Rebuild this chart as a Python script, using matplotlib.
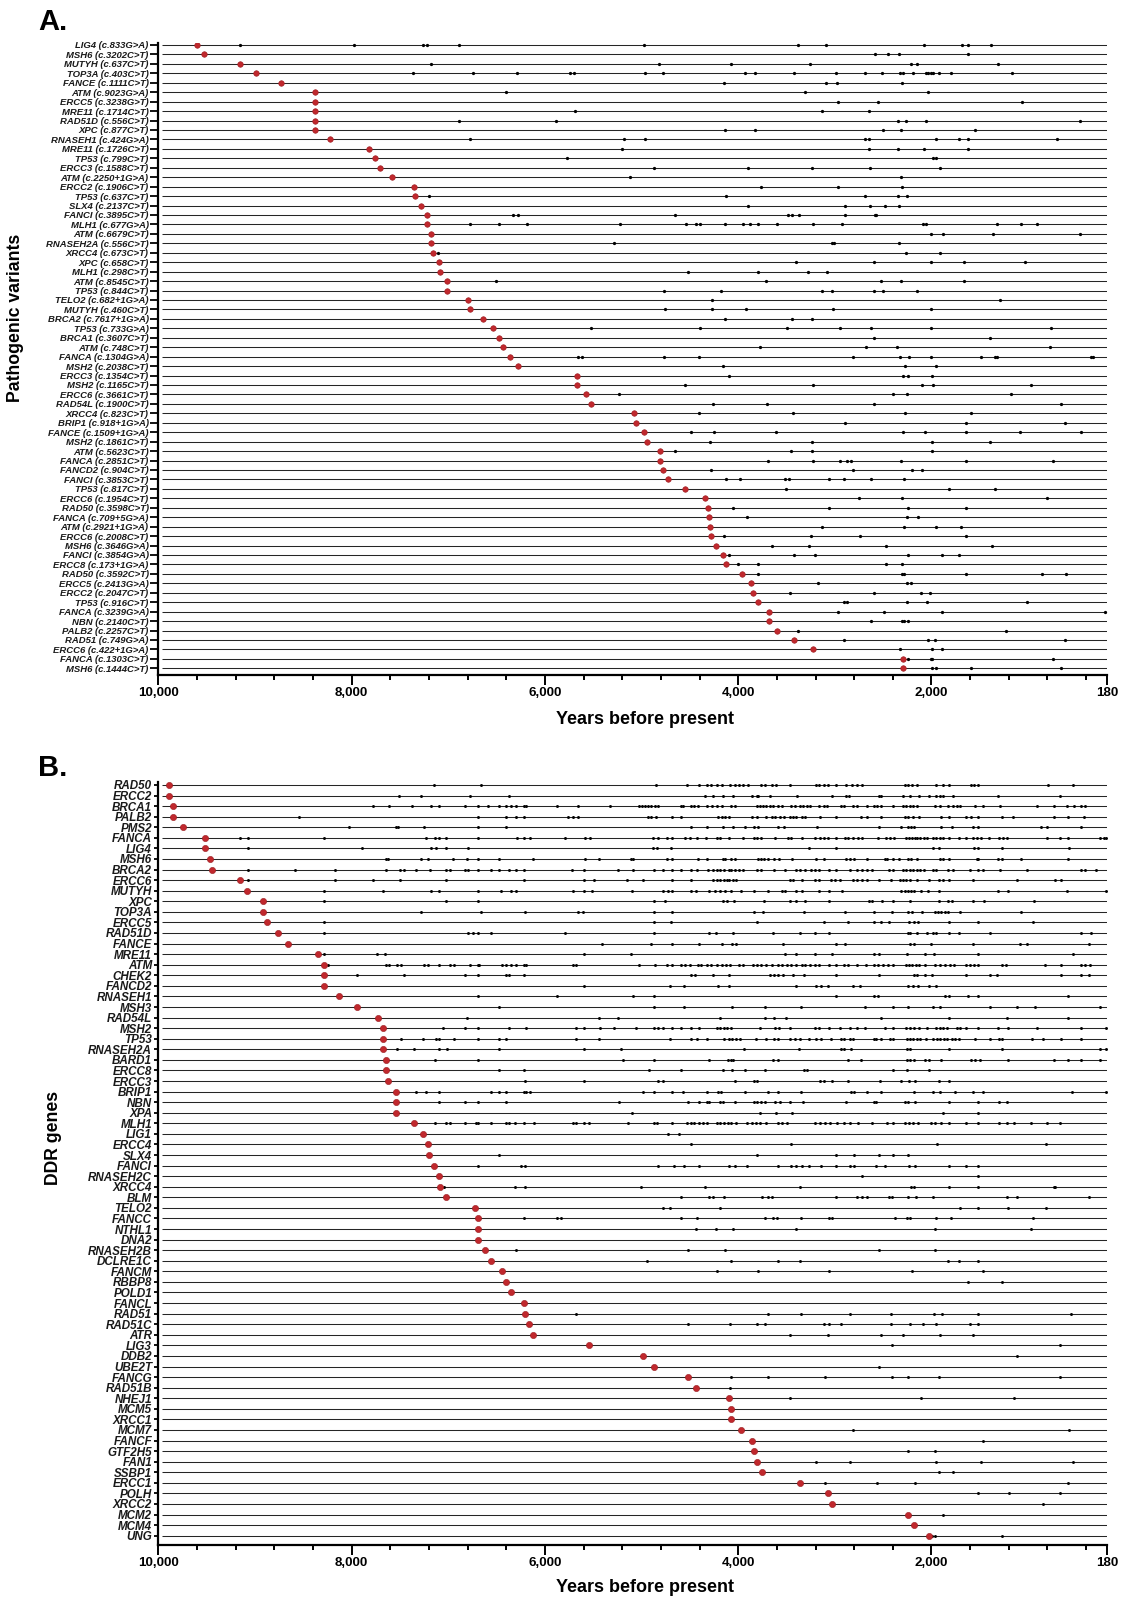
import matplotlib
matplotlib.use("Agg")
import matplotlib.pyplot as plt
from matplotlib.ticker import FixedLocator
import numpy as np

plt.rcParams['font.family'] = ['Liberation Sans', 'DejaVu Sans']

RED = '#c0282d'
W, H = 1127, 1598

# ---------------- panel A: pathogenic variants ----------------
variant_labels = [
    "LIG4 (c.833G>A)", "MSH6 (c.3202C>T)", "MUTYH (c.637C>T)", "TOP3A (c.403C>T)",
    "FANCE (c.1111C>T)", "ATM (c.9023G>A)", "ERCC5 (c.3238G>T)", "MRE11 (c.1714C>T)",
    "RAD51D (c.556C>T)", "XPC (c.877C>T)", "RNASEH1 (c.424G>A)", "MRE11 (c.1726C>T)",
    "TP53 (c.799C>T)", "ERCC3 (c.1588C>T)", "ATM (c.2250+1G>A)", "ERCC2 (c.1906C>T)",
    "TP53 (c.637C>T)", "SLX4 (c.2137C>T)", "FANCI (c.3895C>T)", "MLH1 (c.677G>A)",
    "ATM (c.6679C>T)", "RNASEH2A (c.556C>T)", "XRCC4 (c.673C>T)", "XPC (c.658C>T)",
    "MLH1 (c.298C>T)", "ATM (c.8545C>T)", "TP53 (c.844C>T)", "TELO2 (c.682+1G>A)",
    "MUTYH (c.460C>T)", "BRCA2 (c.7617+1G>A)", "TP53 (c.733G>A)", "BRCA1 (c.3607C>T)",
    "ATM (c.748C>T)", "FANCA (c.1304G>A)", "MSH2 (c.2038C>T)", "ERCC3 (c.1354C>T)",
    "MSH2 (c.1165C>T)", "ERCC6 (c.3661C>T)", "RAD54L (c.1900C>T)", "XRCC4 (c.823C>T)",
    "BRIP1 (c.918+1G>A)", "FANCE (c.1509+1G>A)", "MSH2 (c.1861C>T)", "ATM (c.5623C>T)",
    "FANCA (c.2851C>T)", "FANCD2 (c.904C>T)", "FANCI (c.3853C>T)", "TP53 (c.817C>T)",
    "ERCC6 (c.1954C>T)", "RAD50 (c.3598C>T)", "FANCA (c.709+5G>A)", "ATM (c.2921+1G>A)",
    "ERCC6 (c.2008C>T)", "MSH6 (c.3646G>A)", "FANCI (c.3854G>A)", "ERCC8 (c.173+1G>A)",
    "RAD50 (c.3592C>T)", "ERCC5 (c.2413G>A)", "ERCC2 (c.2047C>T)", "TP53 (c.916C>T)",
    "FANCA (c.3239G>A)", "NBN (c.2140C>T)", "PALB2 (c.2257C>T)", "RAD51 (c.749G>A)",
    "ERCC6 (c.422+1G>A)", "FANCA (c.1303C>T)", "MSH6 (c.1444C>T)",
]

# oldest sample carrying the variant (years before present)
variant_first = [
    9600, 9530, 9150, 8990, 8730, 8380, 8380, 8380, 8380, 8380,
    8220, 7820, 7760, 7710, 7580, 7350, 7340, 7280, 7220, 7220,
    7180, 7180, 7160, 7100, 7090, 7010, 7010, 6800, 6770, 6640,
    6540, 6480, 6430, 6360, 6280, 5670, 5670, 5570, 5520, 5080,
    5060, 4970, 4940, 4810, 4810, 4780, 4730, 4550, 4340, 4310,
    4300, 4290, 4280, 4230, 4160, 4130, 3960, 3870, 3850, 3790,
    3680, 3680, 3600, 3420, 3230, 2290, 2290,
]

# other carriers
variant_other = [
    [9150, 7970, 7260, 7220, 6890, 4970, 3380, 3090, 2080, 1680, 1620, 1380],
    [2580, 2450, 2340, 1620],
    [7180, 4820, 4070, 3260, 2210, 2150, 1310],
    [7360, 6740, 6290, 5740, 5700, 4960, 4780, 3930, 3830, 3420, 2990, 2690,
     2510, 2330, 2290, 2190, 2060, 2040, 2010, 1980, 1920, 1800, 1170],
    [4150, 3090, 2980, 2310],
    [6400, 3310, 2040],
    [2970, 2550, 1060],
    [5690, 3130, 2650],
    [6890, 5880, 2350, 2260, 2060, 460],
    [4140, 3830, 2500, 2320, 1550],
    [6780, 5180, 4960, 2690, 2650, 1950, 1720, 1620, 700],
    [5200, 2650, 2350, 2080, 1620],
    [5770, 1980, 1950],
    [4870, 3900, 3240, 2640, 1910],
    [5120, 2320],
    [3760, 2970, 2310],
    [7200, 4130, 2690, 2350, 2250],
    [3900, 2900, 2640, 2480, 2340],
    [6330, 6280, 4650, 3480, 3440, 3370, 2890, 2580, 2570],
    [6780, 6470, 6190, 5220, 4540, 4440, 4400, 4140, 3950, 3880, 3790, 3600,
     3230, 2930, 2090, 2060, 1320, 1070, 910],
    [2010, 1880, 1360, 460],
    [5290, 3030, 3010, 2340],
    [7110, 2260, 1910],
    [3400, 2600, 2010, 1660, 1030],
    [4520, 3800, 3280, 3080],
    [6510, 3710, 2520, 2320, 1660],
    [4770, 4180, 3130, 3030, 2590, 2500, 2150],
    [4270, 1290],
    [4760, 4270, 3920, 3020, 2010],
    [4140, 3440, 3240],
    [5520, 4400, 3490, 2950, 2630, 2010, 760],
    [2600, 1390],
    [3770, 2680, 2360, 770],
    [5660, 5620, 4770, 4410, 2810, 2330, 2230, 2010, 1490, 1340, 1320, 350, 330],
    [4160, 2270, 1950],
    [4100, 2290, 2240, 1990],
    [4550, 3230, 2100, 1980, 970],
    [5230, 2400, 2250, 1180],
    [4260, 3700, 2590, 660],
    [4410, 3430, 2270, 1590],
    [2890, 1640, 620],
    [4490, 4250, 3610, 2290, 2070, 1640, 1080, 450],
    [4290, 3240, 1990, 1390],
    [4650, 3450, 3240, 1990],
    [3690, 3230, 2950, 2870, 2830, 2320, 1640, 740],
    [4280, 2810, 2200, 2100],
    [4130, 3980, 3520, 3470, 3060, 2910, 2630, 2280],
    [3510, 1820, 1340],
    [2750, 2310, 800],
    [4050, 3060, 2240, 1640],
    [3910, 2250, 2140],
    [3130, 2280, 1950, 1690],
    [4150, 3250, 2740, 1640],
    [3650, 3270, 2470, 1370],
    [4100, 3420, 3210, 2240, 1890, 1720],
    [4000, 3790, 2470, 2310],
    [3800, 2310, 2280, 1640, 860, 610],
    [3170, 2250, 2210],
    [3460, 2590, 2110, 2020],
    [2910, 2870, 2250, 2050, 1010],
    [2970, 2490, 1890, 200],
    [2630, 2310, 2280, 2240],
    [3380, 1230],
    [2910, 2040, 1960, 620],
    [2330, 1990, 1890],
    [2240, 2010, 1990, 740],
    [1990, 1950, 1590, 660],
]

# ---------------- panel B: DDR genes ----------------
gene_labels = [
    "RAD50", "ERCC2", "BRCA1", "PALB2", "PMS2", "FANCA", "LIG4", "MSH6", "BRCA2",
    "ERCC6", "MUTYH", "XPC", "TOP3A", "ERCC5", "RAD51D", "FANCE", "MRE11", "ATM",
    "CHEK2", "FANCD2", "RNASEH1", "MSH3", "RAD54L", "MSH2", "TP53", "RNASEH2A",
    "BARD1", "ERCC8", "ERCC3", "BRIP1", "NBN", "XPA", "MLH1", "LIG1", "ERCC4",
    "SLX4", "FANCI", "RNASEH2C", "XRCC4", "BLM", "TELO2", "FANCC", "NTHL1", "DNA2",
    "RNASEH2B", "DCLRE1C", "FANCM", "RBBP8", "POLD1", "FANCL", "RAD51", "RAD51C",
    "ATR", "LIG3", "DDB2", "UBE2T", "FANCG", "RAD51B", "NHEJ1", "MCM5", "XRCC1",
    "MCM7", "FANCF", "GTF2H5", "FAN1", "SSBP1", "ERCC1", "POLH", "XRCC2", "MCM2",
    "MCM4", "UNG",
]

gene_first = [
    9890, 9890, 9850, 9850, 9740, 9520, 9520, 9460, 9440, 9150,
    9080, 8920, 8920, 8880, 8760, 8660, 8350, 8290, 8290, 8290,
    8130, 7940, 7730, 7680, 7680, 7680, 7640, 7640, 7620, 7540,
    7540, 7540, 7350, 7260, 7210, 7200, 7150, 7100, 7090, 7020,
    6720, 6690, 6690, 6690, 6620, 6560, 6440, 6400, 6350, 6220,
    6210, 6160, 6120, 5540, 4990, 4870, 4520, 4440, 4090, 4070,
    4070, 3970, 3860, 3840, 3810, 3750, 3360, 3070, 3030, 2240,
    2180, 2030,
]

gene_other = [
    [7150, 6660, 4850, 4530, 4410, 4320, 4280, 4220, 4170, 4080, 4030, 3990, 3950,
     3900, 3760, 3720, 3650, 3610, 3460, 3200, 3160, 3110, 3070, 2990, 2880, 2820,
     2770, 2720, 2270, 2240, 2200, 2150, 1950, 1880, 1820, 1590, 1560, 1520, 790, 540],
    [7510, 7280, 6780, 6370, 4340, 4260, 4160, 4050, 3860, 3810, 3790, 3670, 3390,
     3030, 2880, 2850, 2540, 2520, 2290, 2220, 2130, 2030, 1950, 1910, 1880, 1780,
     1310, 670],
    [7780, 7610, 7370, 7180, 7100, 6830, 6690, 6590, 6470, 6400, 6350, 6300, 6220,
     6200, 5870, 5660, 5330, 5030, 5000, 4960, 4930, 4900, 4860, 4830, 4590, 4570,
     4490, 4460, 4420, 4320, 4270, 4220, 4170, 4070, 4030, 3810, 3770, 3740, 3710,
     3670, 3640, 3590, 3550, 3450, 3410, 3360, 3330, 3290, 3260, 3160, 3110, 3080,
     2940, 2910, 2810, 2770, 2670, 2600, 2560, 2520, 2400, 2290, 2260, 2220, 2190,
     2150, 1960, 1910, 1830, 1780, 1740, 1700, 1550, 1470, 1290, 910, 730, 600, 530,
     450, 410],
    [8540, 6690, 6400, 6300, 6220, 5760, 5710, 5660, 4930, 4900, 4850, 4690, 4590,
     4210, 4170, 4140, 4090, 3860, 3810, 3710, 3650, 3620, 3570, 3530, 3460, 3430,
     3400, 3340, 3310, 3150, 2990, 2730, 2670, 2520, 2270, 2240, 2190, 2130, 1900,
     1820, 1640, 1590, 1520, 1270, 1160, 730, 590, 420],
    [8030, 7540, 7520, 7250, 6690, 6400, 4490, 4320, 4160, 4050, 3930, 3840, 3800,
     3590, 3530, 3180, 2540, 2320, 2240, 2210, 2180, 1900, 1790, 1570, 1520, 870,
     800, 450],
    [9150, 9070, 8290, 7230, 7140, 7100, 7020, 6690, 6290, 6220, 6150, 5790, 5590,
     5530, 4880, 4830, 4740, 4690, 4550, 4500, 4430, 4330, 4220, 4190, 4090, 3950,
     3840, 3810, 3760, 3620, 3480, 3450, 3340, 3210, 3150, 3110, 3070, 2990, 2900,
     2860, 2810, 2760, 2720, 2550, 2470, 2430, 2390, 2260, 2230, 2200, 2170, 2150,
     2120, 2080, 2050, 1980, 1950, 1910, 1880, 1820, 1720, 1640, 1570, 1530, 1490,
     1400, 1300, 1260, 1220, 810, 670, 590, 260, 220, 190],
    [9070, 7890, 7180, 7130, 7020, 6800, 4880, 4840, 4700, 3270, 2990, 1980, 1920,
     1560, 1520, 1270, 580],
    [7640, 7620, 7280, 7210, 6950, 6810, 6690, 6470, 6120, 5590, 5440, 5110, 5090,
     4740, 4690, 4420, 4320, 4160, 4140, 4070, 4030, 3790, 3760, 3730, 3690, 3630,
     3580, 3440, 3200, 3110, 2880, 2840, 2800, 2670, 2480, 2460, 2400, 2340, 2240,
     2210, 2150, 1910, 1880, 1820, 1530, 1520, 1310, 1270, 1070, 590],
    [9070, 8590, 8170, 7640, 7500, 7460, 7330, 7190, 7020, 6980, 6830, 6800, 6690,
     6560, 6470, 6370, 6300, 6220, 5720, 5600, 5240, 5090, 4870, 4780, 4690, 4590,
     4490, 4430, 4310, 4260, 4220, 4190, 4150, 4100, 4070, 4030, 3990, 3950, 3810,
     3760, 3630, 3520, 3400, 3360, 3310, 3250, 3210, 3160, 3060, 2990, 2840, 2770,
     2720, 2670, 2620, 2440, 2400, 2290, 2260, 2220, 2190, 2150, 2120, 2080, 1980,
     1950, 1830, 1780, 1600, 1520, 1470, 1290, 1010, 450, 410, 300],
    [9070, 8170, 7780, 7500, 7020, 6220, 5600, 5490, 5150, 4990, 4690, 4490, 4260,
     4220, 4190, 4150, 4120, 4090, 4050, 4020, 3460, 3430, 3340, 3210, 3160, 3040,
     3000, 2950, 2810, 2770, 2720, 2670, 2540, 2420, 2330, 2290, 2260, 2220, 2150,
     2030, 1920, 1880, 1820, 1570, 1120, 720, 660],
    [8290, 7680, 7180, 7100, 6690, 6450, 6350, 6300, 5710, 5600, 5510, 5100, 4780,
     4730, 4690, 4490, 4440, 4300, 4240, 4190, 4140, 4070, 3970, 3840, 3690, 3550,
     3520, 3400, 3340, 3160, 3060, 2930, 2320, 2270, 2240, 2210, 2180, 2110, 2040,
     1920, 1310, 1210, 600, 190],
    [8290, 7020, 6690, 4870, 4760, 4160, 4120, 4040, 3730, 3460, 3400, 3310, 3060,
     2650, 2620, 2510, 2400, 2220, 1920, 1830, 1790, 1570, 1460, 940],
    [7280, 6660, 6210, 5660, 5610, 4870, 4690, 3840, 3740, 3320, 2900, 2590, 2410,
     2240, 2200, 2100, 1960, 1930, 1900, 1860, 1830, 1710, 1070],
    [8290, 4870, 4700, 3810, 3110, 2860, 2600, 2520, 2440, 2230, 2180, 2140, 1820,
     1520, 950],
    [8290, 6800, 6740, 6690, 6560, 5790, 4870, 4300, 4230, 4050, 3640, 3360, 3210,
     3060, 2240, 2220, 2150, 2050, 1980, 1950, 1820, 1720, 1390, 450, 350],
    [5410, 4900, 4690, 4410, 4170, 4060, 4020, 3540, 2990, 2890, 2220, 2180, 2000,
     1570, 1080, 1010, 370],
    [8290, 7740, 7650, 5600, 5110, 3520, 3400, 3210, 3030, 2600, 2540, 2250, 2070,
     1970, 1520, 540],
    [8240, 7640, 7610, 7530, 7490, 7250, 7210, 7100, 6980, 6940, 6780, 6690, 6680,
     6440, 6400, 6350, 6300, 6220, 6200, 5710, 5680, 5030, 4860, 4740, 4690, 4590,
     4550, 4500, 4420, 4390, 4320, 4280, 4220, 4170, 4130, 4080, 3990, 3950, 3850,
     3810, 3760, 3710, 3650, 3590, 3550, 3500, 3450, 3400, 3340, 3310, 3260, 3210,
     3160, 3060, 2990, 2910, 2860, 2770, 2680, 2600, 2550, 2500, 2450, 2400, 2260,
     2230, 2200, 2160, 2130, 2070, 1960, 1910, 1860, 1810, 1770, 1640, 1600, 1560,
     1520, 1270, 1230, 830, 660, 450, 410, 360],
    [7940, 7460, 6830, 6690, 6400, 6370, 6220, 4490, 4450, 4260, 4090, 3670, 3630,
     3590, 3540, 3430, 3320, 2990, 2540, 2180, 2150, 2070, 1990, 1640, 1390, 1320,
     660, 450, 370],
    [5600, 4710, 4560, 4210, 4090, 3400, 3190, 3140, 3070, 2810, 2740, 2240, 2190,
     2140, 2030, 1950],
    [6690, 5870, 5090, 4870, 2990, 2600, 2550, 1860, 1820, 1620, 1520, 590],
    [6470, 4870, 4560, 4060, 3720, 3350, 2690, 2400, 2240, 1980, 1910, 1390, 1120,
     930, 260],
    [6810, 5440, 5240, 4190, 3720, 3630, 3510, 2520, 1820, 1220, 590],
    [7050, 6830, 6690, 6370, 6200, 5680, 5600, 5430, 5290, 5060, 4870, 4830, 4780,
     4690, 4590, 4490, 4410, 4220, 4190, 4150, 4120, 4070, 3770, 3620, 3580, 3460,
     3210, 3160, 3060, 2950, 2840, 2770, 2690, 2480, 2400, 2260, 2220, 2180, 2130,
     2050, 1950, 1910, 1880, 1840, 1740, 1700, 1640, 1520, 1310, 1210, 910, 450, 190],
    [7490, 7260, 7130, 7100, 6940, 6690, 6470, 6400, 5680, 5440, 4710, 4490, 4430,
     4320, 4150, 4100, 4060, 4020, 3980, 3820, 3710, 3630, 3590, 3460, 3410, 3360,
     3270, 3190, 3140, 3040, 2940, 2910, 2840, 2810, 2600, 2570, 2520, 2430, 2400,
     2250, 2220, 2190, 2150, 2120, 2060, 1980, 1940, 1910, 1870, 1840, 1790, 1760,
     1720, 1550, 1390, 1300, 1270, 960, 850, 660, 450],
    [7530, 7350, 7100, 7010, 6470, 5600, 5210, 3940, 3370, 2940, 2910, 2830, 2250,
     2220, 1820, 1270, 260, 190],
    [7140, 6690, 5190, 4870, 4300, 4110, 4070, 4050, 3640, 3590, 2860, 2730, 2250,
     2220, 2180, 2070, 2030, 1900, 1590, 1550, 1500, 1210, 730, 590, 450, 260],
    [6470, 6220, 4920, 4590, 4160, 4060, 3930, 3720, 3320, 3290, 2400, 2250, 2030],
    [6210, 5600, 4830, 4780, 4030, 3840, 3810, 3150, 3110, 3030, 2860, 2530, 2320,
     2230, 2170, 1920, 1820],
    [7330, 7230, 7100, 6560, 6470, 6400, 6220, 6200, 6150, 4980, 4870, 4690, 4570,
     4320, 4210, 4180, 3930, 3690, 3590, 3350, 2830, 2800, 2670, 2520, 2180, 1980,
     1910, 1760, 1570, 1470, 550, 190],
    [7100, 6830, 6690, 6400, 5230, 4520, 4410, 4320, 4300, 4190, 4160, 4030, 3840,
     3810, 3760, 3720, 3620, 3570, 3460, 3330, 2880, 2600, 2570, 2270, 2240, 2170,
     1820, 1520, 1300, 1220],
    [5100, 3770, 3610, 3440, 1880, 1520],
    [7140, 7020, 6980, 6830, 6710, 6690, 6560, 6400, 6370, 6310, 6220, 6110, 5710,
     5680, 5600, 5540, 5140, 4870, 4840, 4690, 4530, 4490, 4460, 4410, 4360, 4320,
     4220, 4190, 4150, 4110, 4070, 4020, 3910, 3860, 3820, 3770, 3710, 3590, 3550,
     3500, 3210, 3150, 3100, 3050, 2980, 2910, 2840, 2760, 2620, 2460, 2400, 2270,
     2230, 2190, 2140, 2000, 1960, 1900, 1820, 1640, 1520, 1300, 1220, 1150, 970,
     810, 670],
    [4730, 4610],
    [4490, 3450, 1940, 820],
    [6470, 3810, 2990, 2800, 2540, 2400, 2240],
    [6690, 6250, 6210, 4830, 4660, 4560, 4410, 4090, 4030, 3910, 3590, 3450, 3400,
     3340, 3270, 3140, 2990, 2840, 2800, 2570, 2480, 2230, 2170, 1820, 1640, 1520],
    [2720, 1520],
    [7040, 6310, 6210, 5010, 4340, 3360, 2210, 2180, 1820, 1520, 730, 720],
    [4590, 4300, 4260, 4150, 3750, 3690, 3650, 2990, 2770, 2720, 2670, 2440, 2410,
     2240, 2160, 1980, 1220, 1120, 370],
    [4780, 4710, 4190, 1710, 1520, 1210, 820],
    [6220, 5870, 5830, 4590, 4430, 3720, 3640, 3600, 3350, 3060, 3030, 2380, 2250,
     2220, 1950, 1800, 950],
    [4440, 4230, 4050, 3400, 1960, 970],
    [],
    [6300, 4520, 4140, 2540, 1960],
    [4940, 4070, 3590, 3360, 1830, 1720, 1520],
    [4220, 3800, 3060, 2200, 1470],
    [1620, 1270],
    [],
    [],
    [5680, 3690, 3350, 2840, 2420, 1970, 1890, 1520, 560],
    [4520, 4080, 3810, 3720, 3110, 3060, 2940, 2420, 2220, 2090, 1950, 1600, 1520],
    [3460, 3070, 2520, 2300, 1910, 1570],
    [2410, 670],
    [1120],
    [2540],
    [4070, 3690, 3100, 2410, 2240, 1920, 670],
    [4080],
    [3460, 2110, 1150],
    [],
    [],
    [2810, 580],
    [1470],
    [2240, 1960],
    [3200, 2840, 1950, 1490, 540],
    [1920, 1780],
    [3100, 2560, 2170, 590],
    [1520, 1200, 670],
    [850],
    [1880],
    [],
    [1990, 1960, 1270],
]

x_major = [10000, 8000, 6000, 4000, 2000, 180]
x_major_labels = ["10,000", "8,000", "6,000", "4,000", "2,000", "180"]
x_minor = [y for y in range(9600, 0, -400) if y % 2000 != 0]


def px_rect(left, top, right, bottom):
    return [left / W, 1 - bottom / H, (right - left) / W, (bottom - top) / H]


def draw_panel(ax, labels, first, other, pad_top, pad_bottom,
               label_size, tick_len, black_s, red_s):
    n = len(labels)
    rows = np.arange(n)
    ax.hlines(rows, 9965, 180, color='#262626', lw=0.75, zorder=1)

    xs = [v for row in other for v in row]
    ys = [i for i, row in enumerate(other) for _ in row]
    ax.scatter(xs, ys, s=black_s, c='black', marker='o', linewidths=0, zorder=2)
    ax.scatter(first, rows, s=red_s, c=RED, edgecolors='#9a1b1f',
               linewidths=0.4, zorder=3)

    ax.set_xlim(10000, 180)
    ax.set_ylim(n - 1 + pad_bottom, -pad_top)

    ax.set_yticks(rows)
    ax.set_yticklabels(labels, fontsize=label_size, fontweight='bold',
                       fontstyle='italic', color='#1a1a1a')
    ax.tick_params(axis='y', length=tick_len, width=1.3, pad=1.5)

    ax.xaxis.set_major_locator(FixedLocator(x_major))
    ax.xaxis.set_minor_locator(FixedLocator(x_minor))
    ax.set_xticklabels(x_major_labels, fontsize=9.6, fontweight='bold')
    ax.tick_params(axis='x', which='major', length=7, width=1.4, pad=2)
    ax.tick_params(axis='x', which='minor', length=3.5, width=1.4)

    for side in ('top', 'right'):
        ax.spines[side].set_visible(False)
    for side in ('left', 'bottom'):
        ax.spines[side].set_linewidth(1.6)


fig = plt.figure(figsize=(W / 100, H / 100), dpi=100)

ax_a = fig.add_axes(px_rect(158.3, 43, 1107.4, 675))
draw_panel(ax_a, variant_labels, variant_first, variant_other,
           0.21, 0.71, 6.8, 5.5, 5.5, 16)

ax_b = fig.add_axes(px_rect(158.3, 782, 1107.4, 1545))
draw_panel(ax_b, gene_labels, gene_first, gene_other,
           0.28, 0.88, 8.4, 3, 4.5, 20)

# panel letters
fig.text(38 / W, 1 - 8 / H, "A.", fontsize=21, fontweight='bold', va='top', ha='left')
fig.text(38 / W, 1 - 754 / H, "B.", fontsize=21, fontweight='bold', va='top', ha='left')

# axis titles
fig.text(16 / W, 1 - 318 / H, "Pathogenic variants", rotation=90, fontsize=12.7,
         fontweight='bold', ha='center', va='center')
fig.text(54 / W, 1 - 1138 / H, "DDR genes", rotation=90, fontsize=12.7,
         fontweight='bold', ha='center', va='center')
fig.text(645 / W, 1 - 719 / H, "Years before present", fontsize=13,
         fontweight='bold', ha='center', va='center')
fig.text(645 / W, 1 - 1587 / H, "Years before present", fontsize=13,
         fontweight='bold', ha='center', va='center')

fig.savefig("out.png", dpi=100)
